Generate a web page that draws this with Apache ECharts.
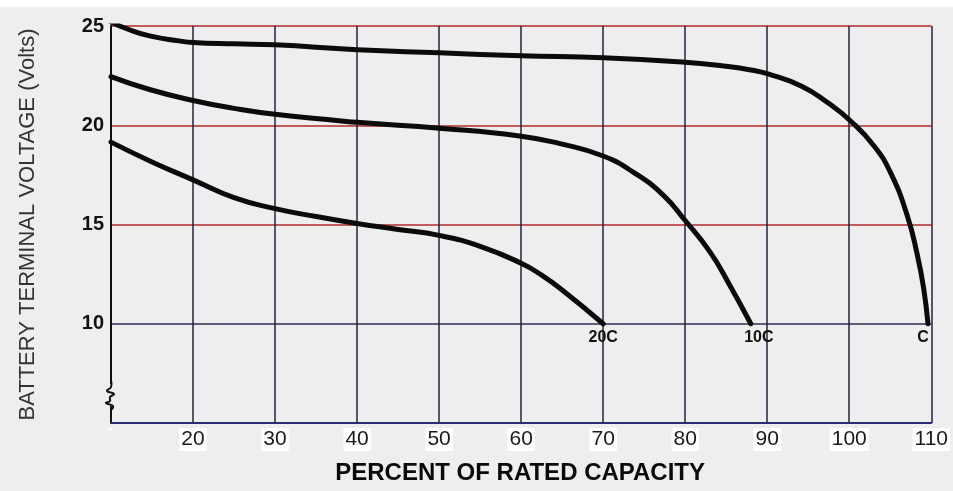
<!DOCTYPE html>
<html>
<head>
<meta charset="utf-8">
<script src="https://cdn.jsdelivr.net/npm/echarts@6/dist/echarts.min.js"></script>
<style>
html,body{margin:0;padding:0;background:#efeeef;}
#chart{width:953px;height:491px;}
</style>
</head>
<body>
<div id="chart"></div>
<script>
// Percent of rated capacity (x) and battery terminal voltage (y) for each discharge rate
const rateC_x = [10, 12, 14.7, 18.3, 20, 25, 30, 40, 50, 60, 70, 80, 85, 88.2, 90, 94.2, 97.4, 100.2, 103, 105.05, 107.06, 108.3, 109.07, 109.6];
const rateC_v = [25.2, 24.85, 24.5, 24.25, 24.17, 24.1, 24.05, 23.8, 23.65, 23.5, 23.4, 23.17, 22.97, 22.77, 22.6, 21.97, 21.13, 20.2, 18.97, 17.6, 15.47, 13.47, 11.8, 10.0];

const rate10C_x = [10, 14.7, 20, 25, 30, 40, 50, 60, 65, 70, 73.7, 77.35, 80, 83, 85.4, 88];
const rate10C_v = [22.45, 21.8, 21.25, 20.85, 20.55, 20.15, 19.85, 19.45, 19.05, 18.45, 17.63, 16.47, 15.2, 13.63, 11.97, 10.0];

const rate20C_x = [10, 15, 20, 25, 30, 35, 40, 45, 50, 55, 60, 62.5, 65, 70];
const rate20C_v = [19.15, 18.15, 17.25, 16.35, 15.8, 15.4, 15.05, 14.75, 14.45, 13.9, 13.05, 12.45, 11.7, 10.0];

const curveNames = ['C', '10C', '20C'];
const xTicks = [20, 30, 40, 50, 60, 70, 80, 90, 100, 110];
const yTicks = [10, 15, 20, 25];

const xTitle = 'PERCENT OF RATED CAPACITY';
const yTitle = 'BATTERY TERMINAL VOLTAGE (Volts)';

function buildData(xs, vs, name, offset) {
  return xs.map((x, i) => {
    const item = { value: [x, vs[i]] };
    if (i === xs.length - 1) {
      item.symbol = 'circle';
      item.symbolSize = 2;
      item.label = {
        show: true,
        formatter: name,
        position: 'bottom',
        distance: 5,
        offset: offset,
        fontFamily: 'Liberation Sans, Arial, sans-serif',
        fontWeight: 'bold',
        fontSize: 16,
        color: '#111'
      };
    }
    return item;
  });
}

function curve(xs, vs, name, offset) {
  return {
    type: 'line',
    name: name,
    data: buildData(xs, vs, name, offset),
    smooth: 0.5,
    showSymbol: true,
    showAllSymbol: true,
    symbol: 'none',
    symbolSize: 0,
    lineStyle: { color: '#0b0b0b', width: 5, cap: 'round', join: 'round' },
    itemStyle: { color: '#0b0b0b' },
    label: { show: false },
    z: 5,
    animation: false
  };
}

const chart = echarts.init(document.getElementById('chart'), null, { renderer: 'canvas' });
chart.setOption({
  backgroundColor: '#efeeef',
  animation: false,
  grid: { left: 111, right: 12, top: 26, bottom: 68 },
  xAxis: {
    type: 'value',
    min: 10, max: 110, interval: 10,
    name: xTitle,
    nameLocation: 'middle',
    nameGap: 38,
    nameTextStyle: {
      fontFamily: 'Liberation Sans, Arial, sans-serif',
      fontWeight: 'bold', fontSize: 24, color: '#0a0a0a',
      padding: [0, 2, 0, 0]
    },
    axisLine: { show: true, lineStyle: { color: '#2c2c70', width: 2 } },
    axisTick: { show: false },
    axisLabel: {
      margin: 5,
      fontFamily: 'Liberation Sans, Arial, sans-serif',
      fontSize: 21, color: '#1a1a1a',
      backgroundColor: '#ffffff',
      padding: [1, 2, 1, 2],
      formatter: v => (xTicks.indexOf(v) >= 0 ? String(v) : '')
    },
    splitLine: { show: true, lineStyle: { color: '#23233f', width: 1.5 } }
  },
  yAxis: {
    type: 'value',
    min: 5, max: 25, interval: 5,
    name: yTitle,
    nameLocation: 'middle',
    nameGap: 72,
    nameRotate: 90,
    nameTextStyle: {
      fontFamily: 'Liberation Sans, Arial, sans-serif',
      fontSize: 22, color: '#333333'
    },
    axisLine: { show: true, lineStyle: { color: '#111111', width: 2 } },
    axisTick: { show: false },
    axisLabel: {
      margin: 7,
      fontFamily: 'Liberation Sans, Arial, sans-serif',
      fontWeight: 'bold', fontSize: 20, color: '#111',
      formatter: v => (yTicks.indexOf(v) >= 0 ? String(v) : '')
    },
    splitLine: {
      show: true,
      lineStyle: { color: ['#2c2c70', '#2a2a55', '#b02a2a', '#b02a2a', '#b02a2a'], width: 1.5 }
    }
  },
  graphic: [
    { type: 'rect', left: 0, top: 0, shape: { width: 953, height: 7 }, style: { fill: '#ffffff' }, silent: true },
    { type: 'rect', shape: { x: 106, y: 384, width: 10, height: 22 }, style: { fill: '#efeeef' }, z: 10, silent: true },
    {
      type: 'polyline', z: 11, silent: true,
      shape: { points: [[111, 380], [111, 387], [107, 391], [114, 394], [110, 397], [110, 401], [106, 403], [113, 406], [111, 410]], smooth: 0.5 },
      style: { stroke: '#111', lineWidth: 2, fill: null }
    }
  ],
  series: [
    curve(rateC_x, rateC_v, curveNames[0], [-5, 0]),
    curve(rate10C_x, rate10C_v, curveNames[1], [8, 0]),
    curve(rate20C_x, rate20C_v, curveNames[2], [0, 0])
  ]
});
</script>
</body>
</html>
